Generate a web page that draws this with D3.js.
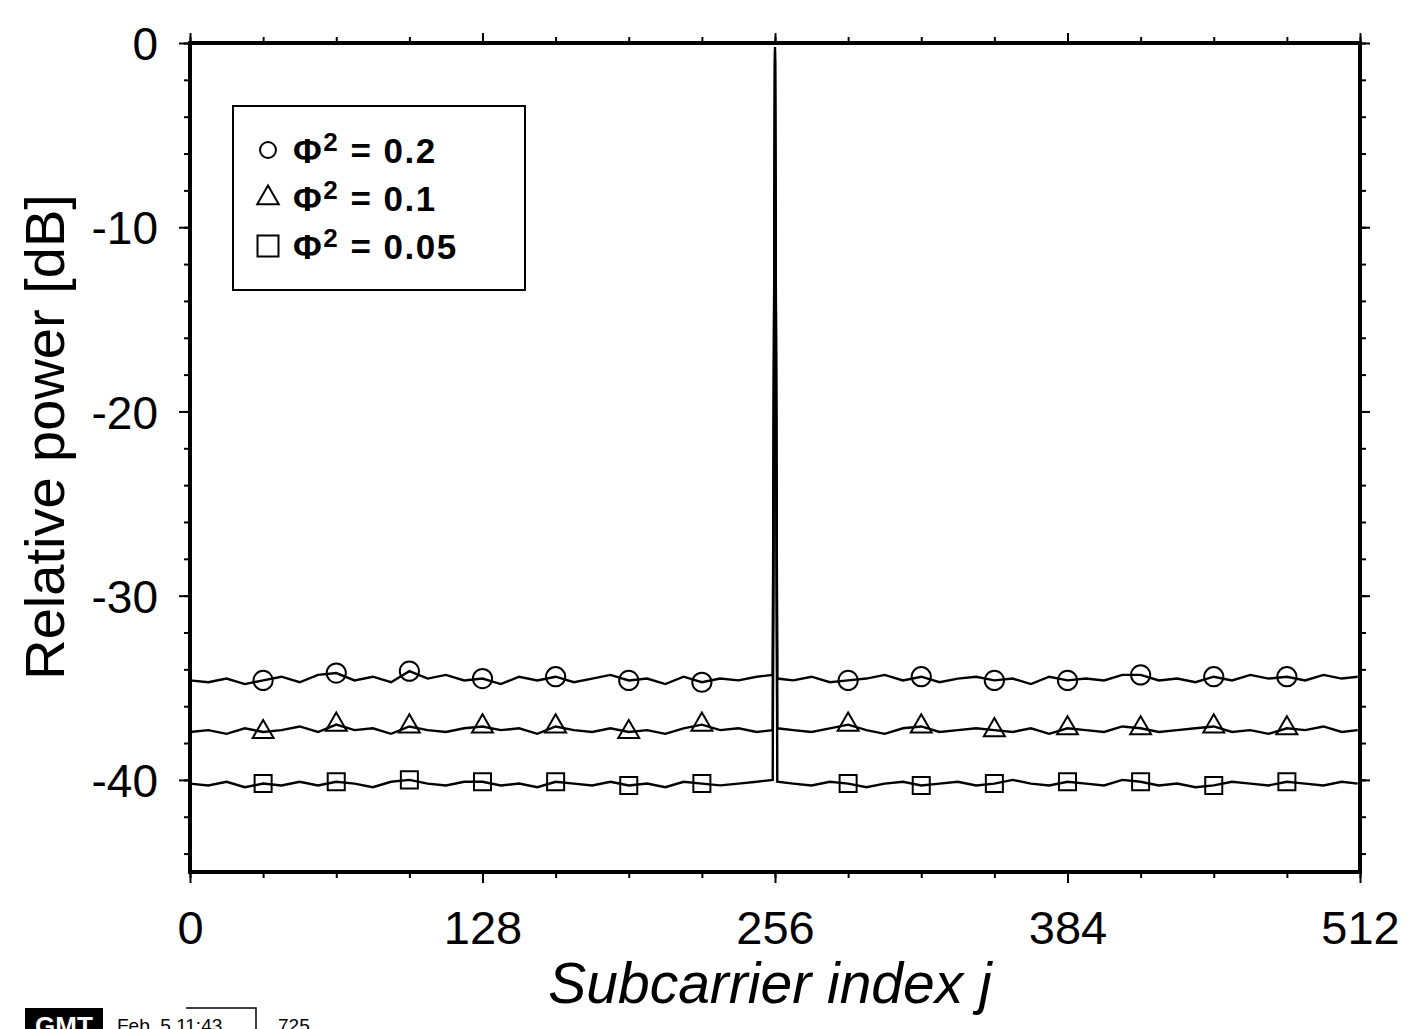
<!DOCTYPE html>
<html>
<head>
<meta charset="utf-8">
<script src="https://cdn.jsdelivr.net/npm/d3@7"></script>
<style>
  body { margin: 0; background: #fff; }
  svg { display: block; }
</style>
</head>
<body>
<div id="chart"></div>
<script>
// subcarrier positions the curves were read at
var subcarriers = [
  0, 8, 16, 24, 32, 40, 48, 56, 64, 72, 80, 88, 96, 104, 112, 120,
  128, 136, 144, 152, 160, 168, 176, 184, 192, 200, 208, 216, 224, 232, 240, 248,
  255, 256, 257,
  264, 272, 280, 288, 296, 304, 312, 320, 328, 336, 344, 352, 360, 368, 376,
  384, 392, 400, 408, 416, 424, 432, 440, 448, 456, 464, 472, 480, 488, 496, 504, 511
];

// relative power [dB]
var phi020 = [
  -34.6, -34.7, -34.5, -34.8, -34.6, -34.4, -34.7, -34.3, -34.2, -34.6, -34.4, -34.7, -34.1, -34.5, -34.3, -34.6,
  -34.5, -34.8, -34.4, -34.6, -34.4, -34.7, -34.5, -34.3, -34.6, -34.5, -34.8, -34.4, -34.7, -34.5, -34.6, -34.4,
  -34.3, -0.9, -34.5,
  -34.6, -34.4, -34.7, -34.6, -34.5, -34.3, -34.6, -34.4, -34.7, -34.5, -34.4, -34.6, -34.5, -34.8, -34.4,
  -34.6, -34.5, -34.6, -34.3, -34.3, -34.6, -34.5, -34.7, -34.4, -34.6, -34.3, -34.5, -34.4, -34.6, -34.3, -34.5, -34.4
];

var phi010 = [
  -37.4, -37.3, -37.5, -37.2, -37.4, -37.3, -37.1, -37.4, -37.0, -37.3, -37.2, -37.5, -37.1, -37.3, -37.4, -37.2,
  -37.1, -37.3, -37.2, -37.5, -37.1, -37.3, -37.4, -37.2, -37.4, -37.3, -37.5, -37.2, -37.0, -37.3, -37.2, -37.4,
  -37.3, -0.45, -37.2,
  -37.3, -37.4, -37.2, -37.0, -37.3, -37.5, -37.2, -37.1, -37.4, -37.3, -37.2, -37.3, -37.4, -37.2, -37.5,
  -37.2, -37.3, -37.4, -37.1, -37.2, -37.4, -37.3, -37.2, -37.1, -37.4, -37.3, -37.5, -37.2, -37.3, -37.1, -37.4, -37.3
];

var phi005 = [
  -40.2, -40.3, -40.1, -40.4, -40.2, -40.3, -40.1, -40.3, -40.1, -40.2, -40.4, -40.1, -40.0, -40.2, -40.3, -40.1,
  -40.1, -40.3, -40.2, -40.4, -40.1, -40.2, -40.3, -40.1, -40.3, -40.2, -40.4, -40.1, -40.2, -40.3, -40.2, -40.1,
  -40.0, -0.22, -40.1,
  -40.2, -40.3, -40.1, -40.2, -40.4, -40.2, -40.1, -40.3, -40.2, -40.1, -40.3, -40.2, -40.0, -40.2, -40.3,
  -40.1, -40.2, -40.3, -40.0, -40.1, -40.3, -40.2, -40.4, -40.3, -40.1, -40.2, -40.3, -40.1, -40.2, -40.3, -40.1, -40.2
];

var markerIdx = [32, 64, 96, 128, 160, 192, 224, 288, 320, 352, 384, 416, 448, 480];

var xTicks = [0, 128, 256, 384, 512];
var yTicks = [0, -10, -20, -30, -40];
var legendLabels = ["0.2", "0.1", "0.05"];

var w = 1409, h = 1029;
var plotL = 190, plotR = 1360, plotT = 43, plotB = 872;
var font = "'Liberation Sans', Arial, Helvetica, sans-serif";

var svg = d3.select("#chart")
  .append("svg")
  .attr("width", w)
  .attr("height", h);

svg.append("rect")
  .attr("width", w)
  .attr("height", h)
  .attr("fill", "#fff");

var x = d3.scaleLinear().domain([0, 512]).range([plotL, plotR]);
var y = d3.scaleLinear().domain([-45, 0]).range([plotB, plotT]);

var minorX = d3.range(0, 513, 32);
var minorY = d3.range(-44, 1, 2);

// minor ticks, all four sides
function minor(axis, tr) {
  svg.append("g")
    .attr("transform", tr)
    .call(axis.tickSize(6).tickFormat(""))
    .call(function(g) { g.select(".domain").remove(); })
    .selectAll("line").attr("stroke-width", 2);
}
minor(d3.axisBottom(x).tickValues(minorX), "translate(0," + plotB + ")");
minor(d3.axisTop(x).tickValues(minorX), "translate(0," + plotT + ")");
minor(d3.axisLeft(y).tickValues(minorY), "translate(" + plotL + ",0)");
minor(d3.axisRight(y).tickValues(minorY), "translate(" + plotR + ",0)");

// major ticks with labels
var xAxis = svg.append("g")
  .attr("transform", "translate(0," + plotB + ")")
  .call(d3.axisBottom(x).tickValues(xTicks).tickSize(11).tickPadding(28));

var yAxis = svg.append("g")
  .attr("transform", "translate(" + plotL + ",0)")
  .call(d3.axisLeft(y).tickValues(yTicks).tickSize(11).tickPadding(21)
    .tickFormat(function(d) { return String(d); }));

svg.append("g")
  .attr("transform", "translate(0," + plotT + ")")
  .call(d3.axisTop(x).tickValues(xTicks).tickSize(10).tickFormat(""));
svg.append("g")
  .attr("transform", "translate(" + plotR + ",0)")
  .call(d3.axisRight(y).tickValues(yTicks).tickSize(10).tickFormat(""));

svg.selectAll(".domain").remove();
svg.selectAll(".tick line").attr("stroke", "#000").attr("stroke-width", 2);

xAxis.selectAll("text")
  .attr("font-family", font)
  .attr("font-size", 47)
  .attr("fill", "#000");
yAxis.selectAll("text")
  .attr("font-family", font)
  .attr("font-size", 46)
  .attr("fill", "#000")
  .attr("dy", "0.36em");

// plot frame
svg.append("rect")
  .attr("x", plotL)
  .attr("y", plotT)
  .attr("width", plotR - plotL)
  .attr("height", plotB - plotT)
  .attr("fill", "none")
  .attr("stroke", "#000")
  .attr("stroke-width", 4);

// curves
var series = [
  { values: phi020, symbol: d3.symbolCircle },
  { values: phi010, symbol: d3.symbolTriangle },
  { values: phi005, symbol: d3.symbolSquare }
];

var line = d3.line()
  .x(function(d) { return x(d.j); })
  .y(function(d) { return y(d.v); });

series.forEach(function(s) {
  var pts = subcarriers.map(function(j, i) { return { j: j, v: s.values[i] }; });

  svg.append("path")
    .datum(pts)
    .attr("d", line)
    .attr("fill", "none")
    .attr("stroke", "#000")
    .attr("stroke-width", 2.4);

  svg.append("g").selectAll("path")
    .data(pts.filter(function(d) { return markerIdx.indexOf(d.j) >= 0; }))
    .enter()
    .append("path")
    .attr("transform", function(d) { return "translate(" + x(d.j) + "," + y(d.v) + ")"; })
    .attr("d", d3.symbol().type(s.symbol).size(s.symbol === d3.symbolTriangle ? 190 : 290))
    .attr("fill", "none")
    .attr("stroke", "#000")
    .attr("stroke-width", 2);
});

// legend
var legend = svg.append("g");

legend.append("rect")
  .attr("x", 233)
  .attr("y", 106)
  .attr("width", 292)
  .attr("height", 184)
  .attr("fill", "#fff")
  .attr("stroke", "#000")
  .attr("stroke-width", 2);

var rows = legend.selectAll(".row")
  .data(series)
  .enter()
  .append("g")
  .attr("class", "row")
  .attr("transform", function(d, i) { return "translate(0," + (150 + i * 48) + ")"; });

rows.append("path")
  .attr("transform", "translate(268,0)")
  .attr("d", function(d) { return d3.symbol().type(d.symbol).size(d.symbol === d3.symbolTriangle ? 200 : d.symbol === d3.symbolCircle ? 200 : 440)(); })
  .attr("fill", "none")
  .attr("stroke", "#000")
  .attr("stroke-width", 2);

var lt = rows.append("text")
  .attr("x", 293)
  .attr("y", 13)
  .attr("font-family", font)
  .attr("font-weight", "bold")
  .attr("font-size", 35)
  .attr("letter-spacing", 1.5)
  .attr("fill", "#000");
lt.append("tspan").text("\u03A6");
lt.append("tspan").attr("font-size", 26).attr("dy", -12).text("2");
lt.append("tspan").attr("dy", 12).text(function(d, i) { return " = " + legendLabels[i]; });

// axis titles
svg.append("text")
  .attr("x", (plotL + plotR) / 2 - 5)
  .attr("y", 1003)
  .attr("text-anchor", "middle")
  .attr("font-family", font)
  .attr("font-style", "italic")
  .attr("font-size", 57)
  .attr("fill", "#000")
  .text("Subcarrier index j");

svg.append("text")
  .attr("transform", "translate(64,437) rotate(-90)")
  .attr("text-anchor", "middle")
  .attr("font-family", font)
  .attr("font-size", 56)
  .attr("fill", "#000")
  .text("Relative power [dB]");

// plot stamp at the bottom edge
svg.append("rect")
  .attr("x", 25)
  .attr("y", 1008)
  .attr("width", 78)
  .attr("height", 30)
  .attr("fill", "#000");
svg.append("text")
  .attr("x", 64)
  .attr("y", 1035)
  .attr("text-anchor", "middle")
  .attr("font-family", font)
  .attr("font-weight", "bold")
  .attr("font-size", 26)
  .attr("fill", "#fff")
  .text("GMT");
svg.append("text")
  .attr("x", 117)
  .attr("y", 1032)
  .attr("font-family", font)
  .attr("font-size", 19)
  .attr("fill", "#000")
  .attr("xml:space", "preserve")
  .text("Feb  5 11:43");
svg.append("path")
  .attr("d", "M186,1008H256V1029")
  .attr("fill", "none")
  .attr("stroke", "#000")
  .attr("stroke-width", 1.5);
svg.append("text")
  .attr("x", 278)
  .attr("y", 1032)
  .attr("font-family", font)
  .attr("font-size", 19)
  .attr("fill", "#000")
  .text("725");
</script>
</body>
</html>
